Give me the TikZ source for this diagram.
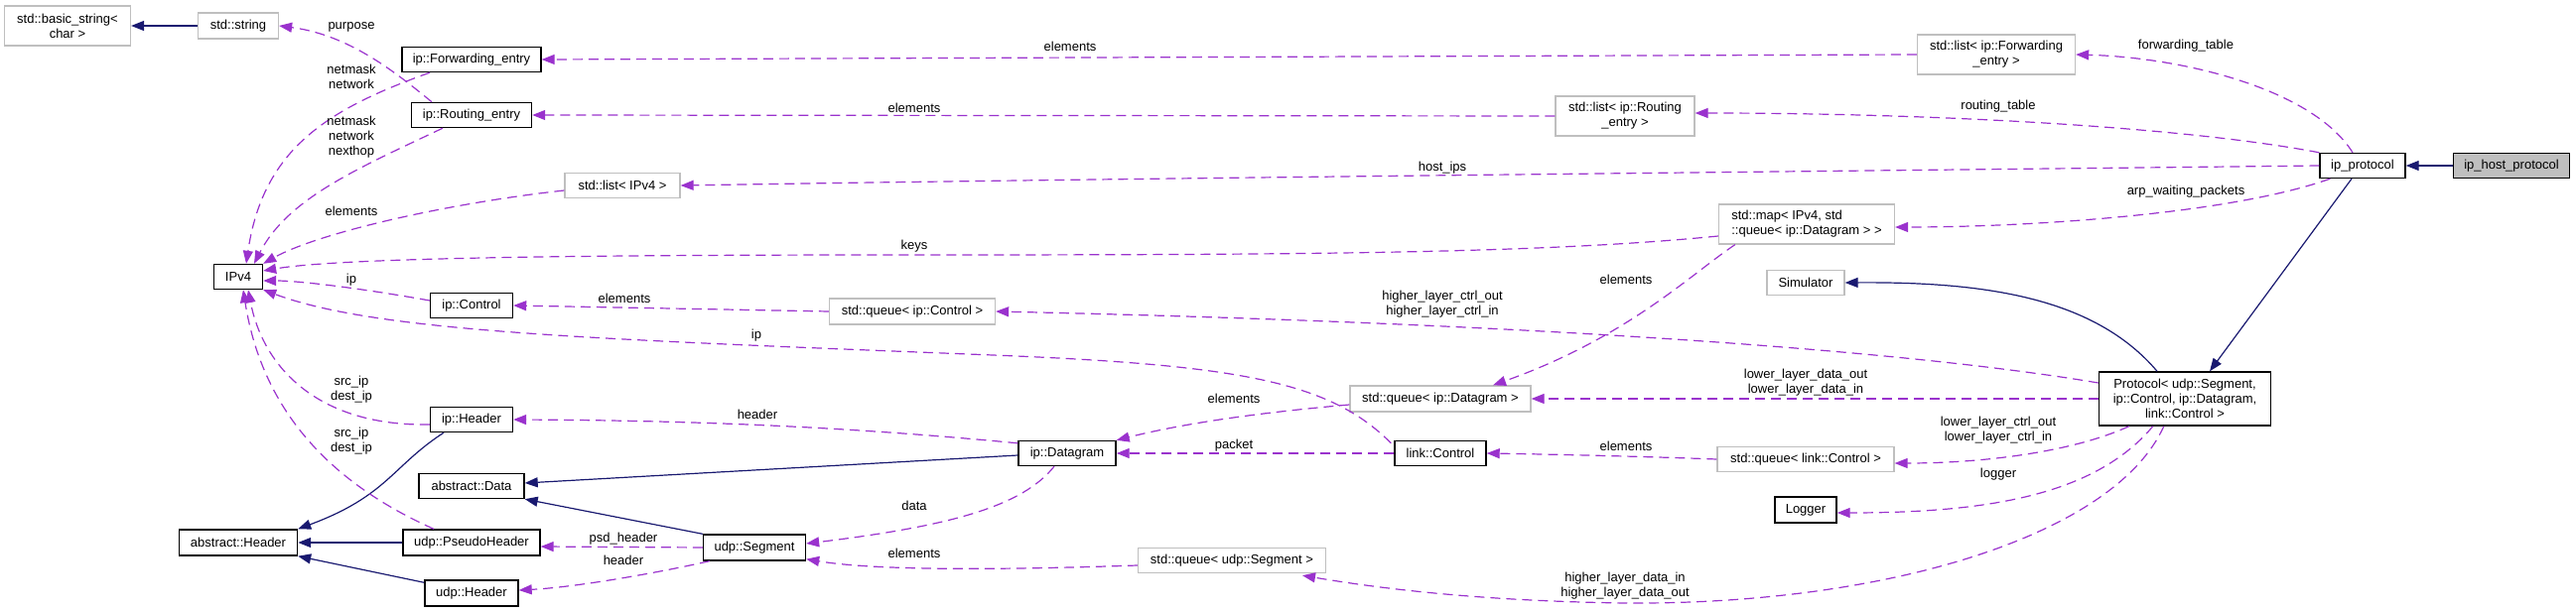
\documentclass[tikz,border=0pt]{standalone}
\usepackage{fontspec}
\setmainfont{Liberation Sans}
\usepackage{tikz}
\usetikzlibrary{calc}
\usetikzlibrary{arrows.meta}
\definecolor{usecol}{HTML}{9A32CD}
\definecolor{inhcol}{HTML}{191970}
\definecolor{extcol}{HTML}{BFBFBF}
\newcommand{\edgelbl}[4]{
  \node[lbl] (#1) at (#2,#3) {#4};
}

\begin{document}
\begin{tikzpicture}[x=1pt,y=-1pt,
    font=\fontsize{13}{15}\selectfont,
    cls/.style={draw=black,line width=1.4pt,inner sep=0pt,align=center,fill=white},
    ext/.style={draw=extcol,line width=1.3pt,inner sep=0pt,align=center,fill=white},
    lbl/.style={inner sep=0pt,align=center},
    inh/.style={draw=inhcol,line width=1.2pt,-{Triangle[length=13pt,width=10pt]}},
    usage/.style={draw=usecol,line width=1.2pt,dash pattern=on 10pt off 6pt,
      -{Triangle[length=13pt,width=10pt]}}]
      \useasboundingbox (0,0) rectangle (2595,617);

      % classes
      \node[ext,minimum width=127pt,minimum height=40pt] (bstr) at (68,26) {std::basic\_string<\\char >};
      \node[ext,minimum width=81pt,minimum height=26pt] (str) at (240,26) {std::string};
      \node[cls,minimum width=140pt,minimum height=25pt] (fwd) at (475,60) {ip::Forwarding\_entry};
      \node[cls,minimum width=121pt,minimum height=25pt] (rte) at (475,116) {ip::Routing\_entry};
      \node[ext,minimum width=116pt,minimum height=25pt] (lipv) at (627,187) {std::list< IPv4 >};
      \node[cls,minimum width=49pt,minimum height=25pt] (ipv) at (240,279) {IPv4};
      \node[cls,minimum width=83pt,minimum height=25pt] (ictl) at (475,308) {ip::Control};
      \node[cls,minimum width=83pt,minimum height=25pt] (ihdr) at (475,423) {ip::Header};
      \node[cls,minimum width=106pt,minimum height=25pt] (adata) at (475,490) {abstract::Data};
      \node[cls,minimum width=119pt,minimum height=26pt] (ahdr) at (240,547) {abstract::Header};
      \node[cls,minimum width=138pt,minimum height=26pt] (phdr) at (475,547) {udp::PseudoHeader};
      \node[cls,minimum width=94pt,minimum height=26pt] (uhdr) at (475,598) {udp::Header};
      \node[ext,minimum width=167pt,minimum height=26pt] (qictl) at (919,314) {std::queue< ip::Control >};
      \node[cls,minimum width=98pt,minimum height=25pt] (dgram) at (1075,457) {ip::Datagram};
      \node[cls,minimum width=103pt,minimum height=26pt] (seg) at (760,552) {udp::Segment};
      \node[ext,minimum width=189pt,minimum height=25pt] (qseg) at (1241,565) {std::queue< udp::Segment >};
      \node[ext,minimum width=140pt,minimum height=40pt] (lrte) at (1637,117) {std::list< ip::Routing\\\_entry >};
      \node[ext,minimum width=177pt,minimum height=40pt,align=left] (amap) at (1820,226) {std::map< IPv4, std\\::queue< ip::Datagram > >};
      \node[ext,minimum width=78pt,minimum height=25pt] (sim) at (1819,285) {Simulator};
      \node[ext,minimum width=182pt,minimum height=26pt] (qdg) at (1451,402) {std::queue< ip::Datagram >};
      \node[cls,minimum width=92pt,minimum height=25pt] (lctl) at (1451,457) {link::Control};
      \node[ext,minimum width=178pt,minimum height=25pt] (qlctl) at (1819,463) {std::queue< link::Control >};
      \node[cls,minimum width=62pt,minimum height=26pt] (logr) at (1819,514) {Logger};
      \node[ext,minimum width=159pt,minimum height=40pt] (lfwd) at (2011,55) {std::list< ip::Forwarding\\\_entry >};
      \node[cls,minimum width=173pt,minimum height=54pt] (proto) at (2201,402) {Protocol< udp::Segment,\\ip::Control, ip::Datagram,\\link::Control >};
      \node[cls,minimum width=86pt,minimum height=25pt] (ipp) at (2380,167) {ip\_protocol};
      \node[cls,fill=extcol,minimum width=117pt,minimum height=25pt] (iphp) at (2530,167) {ip\_host\_protocol};

      % inheritance
      \draw[inh] (str) -- (bstr);
      \draw[inh] (iphp) -- (ipp);
      \draw[inh] ($(ipp.south)+(-11,0)$) -- ($(proto.north)+(25,0)$);
      \draw[inh] ($(proto.north)+(-28,0)$) .. controls (2110,300) and (2000,284) .. (sim.east);
      \draw[inh] ($(ihdr.south)+(-28,0)$) .. controls (395,470) and (390,500) .. (ahdr.north east);
      \draw[inh] (phdr) -- (ahdr);
      \draw[inh] ($(uhdr.north west)+(0,3)$) -- (ahdr.south east);
      \draw[inh] ($(dgram.west)+(0,2)$) -- ($(adata.east)+(0,-3)$);
      \draw[inh] (seg.north west) -- (adata.south east);

      % usage
      \draw[usage] ($(rte.north)+(-40,0)$) .. controls (395,70) and (350,35) .. (str.east);
      \draw[usage] ($(fwd.south)+(-42,0)$) .. controls (330,110) and (265,150) .. ($(ipv.north)+(8,0)$);
      \draw[usage] ($(rte.south)+(-29,0)$) .. controls (360,170) and (290,200) .. ($(ipv.north)+(16,0)$);
      \draw[usage] ($(lipv.west)+(0,5)$) .. controls (450,205) and (320,235) .. (ipv.north east);
      \draw[usage] ($(amap.west)+(0,12)$) .. controls (1550,256) and (1300,257) .. (900,257)
        .. controls (500,257) and (330,262) .. ($(ipv.east)+(0,-6)$);
      \draw[usage] ($(ictl.west)+(0,-5)$) .. controls (360,290) and (300,283) .. ($(ipv.east)+(0,4)$);
      \draw[usage] ($(lctl.north west)+(-3,3)$) .. controls (1340,385) and (1250,368) .. (1000,358)
        .. controls (600,342) and (380,335) .. (ipv.south east);
      \draw[usage] ($(ihdr.west)+(0,5)$) .. controls (320,430) and (265,370) .. ($(ipv.south)+(10,0)$);
      \draw[usage] ($(phdr.north)+(-38,0)$) .. controls (340,490) and (265,420) .. ($(ipv.south)+(5,0)$);
      \draw[usage] (lfwd.west) -- (fwd.east);
      \draw[usage] (lrte.west) -- (rte.east);
      \draw[usage] (qictl.west) -- (ictl.east);
      \draw[usage] ($(ipp.north)+(-10,0)$) .. controls (2330,90) and (2200,58) .. (lfwd.east);
      \draw[usage] (ipp.north west) .. controls (2200,128) and (1950,114) .. ($(lrte.east)+(0,-3)$);
      \draw[usage] (ipp.west) .. controls (1900,172) and (1100,180) .. (lipv.east);
      \draw[usage] ($(ipp.south west)+(11,0)$) .. controls (2250,215) and (2050,229) .. ($(amap.east)+(0,3)$);
      \draw[usage] ($(proto.west)+(0,-16)$) .. controls (1900,350) and (1500,325) .. (qictl.east);
      \draw[usage] (proto.west) -- (qdg.east);
      \draw[usage] ($(proto.south west)+(31,0)$) .. controls (2090,455) and (2000,467) .. ($(qlctl.east)+(0,4)$);
      \draw[usage] ($(proto.south west)+(55,0)$) .. controls (2110,500) and (2000,517) .. ($(logr.east)+(0,3)$);
      \draw[usage] ($(proto.south west)+(66,0)$) .. controls (2130,540) and (1900,610) .. (1637,608)
        .. controls (1500,606) and (1400,595) .. ($(qseg.south)+(71,2)$);
      \draw[usage] (qlctl.west) .. controls (1650,460) and (1560,458) .. (lctl.east);
      \draw[usage] ($(qdg.west)+(0,6)$) .. controls (1280,415) and (1200,425) .. (dgram.north east);
      \draw[usage] (lctl.west) -- (dgram.east);
      \draw[usage] ($(amap.south west)+(17,0)$) .. controls (1705,275) and (1640,340) .. ($(qdg.north)+(53,0)$);
      \draw[usage] ($(dgram.north west)+(0,3)$) .. controls (850,430) and (700,424) .. (ihdr.east);
      \draw[usage] ($(dgram.south)+(-13,0)$) .. controls (1030,510) and (960,530) .. ($(seg.east)+(0,-4)$);
      \draw[usage] ($(qseg.west)+(0,5)$) .. controls (1000,575) and (880,575) .. ($(seg.south east)+(0,-2)$);
      \draw[usage] (seg.west) -- ($(phdr.east)+(0,4)$);
      \draw[usage] ($(seg.south west)+(7,0)$) .. controls (660,578) and (580,592) .. ($(uhdr.east)+(0,-3)$);

      % edge labels
      \edgelbl{lpur}{354}{27}{purpose}
      \edgelbl{lfnet}{354}{77}{netmask\\network}
      \edgelbl{lrnet}{354}{138}{netmask\\network\\nexthop}
      \edgelbl{llel}{354}{213}{elements}
      \edgelbl{lcip}{354}{282}{ip}
      \edgelbl{lhsrc}{354}{393}{src\_ip\\dest\_ip}
      \edgelbl{lpsrc}{354}{445}{src\_ip\\dest\_ip}
      \edgelbl{lfel}{1078}{47}{elements}
      \edgelbl{lrel}{921}{109}{elements}
      \edgelbl{lkeys}{921}{248}{keys}
      \edgelbl{lqcel}{629}{301}{elements}
      \edgelbl{llip}{762}{338}{ip}
      \edgelbl{ldhdr}{763}{418}{header}
      \edgelbl{lqdel}{1243}{402}{elements}
      \edgelbl{lpkt}{1243}{449}{packet}
      \edgelbl{ldata}{921}{510}{data}
      \edgelbl{lqsel}{921}{558}{elements}
      \edgelbl{lpsd}{628}{543}{psd\_header}
      \edgelbl{lshdr}{628}{565}{header}
      \edgelbl{lhost}{1453}{169}{host\_ips}
      \edgelbl{lmel}{1638}{282}{elements}
      \edgelbl{lhctl}{1453}{307}{higher\_layer\_ctrl\_out\\higher\_layer\_ctrl\_in}
      \edgelbl{lldat}{1819}{386}{lower\_layer\_data\_out\\lower\_layer\_data\_in}
      \edgelbl{llcel}{1638}{450}{elements}
      \edgelbl{lhdat}{1637}{591}{higher\_layer\_data\_in\\higher\_layer\_data\_out}
      \edgelbl{lftab}{2202}{46}{forwarding\_table}
      \edgelbl{lrtab}{2013}{107}{routing\_table}
      \edgelbl{larp}{2202}{193}{arp\_waiting\_packets}
      \edgelbl{llctl}{2013}{434}{lower\_layer\_ctrl\_out\\lower\_layer\_ctrl\_in}
      \edgelbl{llog}{2013}{478}{logger}
\end{tikzpicture}
\end{document}
